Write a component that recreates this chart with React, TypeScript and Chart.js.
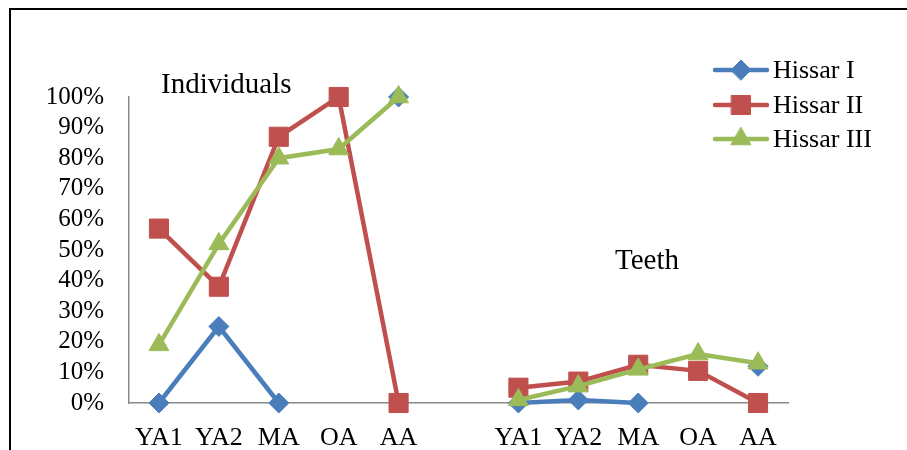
import React, { useEffect, useRef } from "react";
import { Chart, registerables } from "chart.js";

Chart.register(...registerables);

const categories = ["YA1", "YA2", "MA", "OA", "AA", "", "YA1", "YA2", "MA", "OA", "AA"];
const hissarI = [0, 25, 0, null, 100, null, 0, 1, 0, null, 12];
const hissarII = [57, 38, 87, 100, 0, null, 5, 7, 12.5, 10.5, 0];
const hissarIII = [19, 52, 80, 83, 100, null, 1, 5.5, 11, 16, 13];
const seriesNames = ["Hissar I", "Hissar II", "Hissar III"];
const annotations = ["Individuals", "Teeth"];

const BLUE = "#4A7EBB";
const RED = "#C0504D";
const GREEN = "#9BBB59";
const FONT = '"Liberation Serif", "Times New Roman", serif';

function drawMarker(ctx: CanvasRenderingContext2D, style: string, x: number, y: number, color: string) {
  ctx.save();
  ctx.fillStyle = color;
  ctx.strokeStyle = color;
  ctx.lineWidth = 1;
  ctx.beginPath();
  if (style === "rectRot") {
    const r = 10;
    ctx.moveTo(x - r, y);
    ctx.lineTo(x, y - r);
    ctx.lineTo(x + r, y);
    ctx.lineTo(x, y + r);
  } else if (style === "rect") {
    const s = 9.5;
    ctx.rect(x - s, y - s, 2 * s, 2 * s);
  } else {
    const r = 11.5;
    for (let i = 0; i < 3; i++) {
      const a = (i * 2 * Math.PI) / 3;
      const px = x + Math.sin(a) * r;
      const py = y - Math.cos(a) * r;
      if (i === 0) ctx.moveTo(px, py);
      else ctx.lineTo(px, py);
    }
  }
  ctx.closePath();
  ctx.fill();
  ctx.stroke();
  ctx.restore();
}

const decorPlugin = {
  id: "decor",
  afterDraw(chart: any) {
    const ctx: CanvasRenderingContext2D = chart.ctx;
    ctx.save();
    // outer frame
    ctx.strokeStyle = "#000";
    ctx.lineWidth = 2;
    ctx.beginPath();
    ctx.moveTo(10, 460);
    ctx.lineTo(10, 9);
    ctx.lineTo(920, 9);
    ctx.stroke();

    // annotations
    const area = chart.chartArea;
    ctx.fillStyle = "#000";
    ctx.textBaseline = "alphabetic";
    ctx.textAlign = "left";
    ctx.font = `29px ${FONT}`;
    ctx.fillText(annotations[0], area.left + 32, 93);
    ctx.fillText(annotations[1], area.left + 486, 269);

    // legend
    const colors = [BLUE, RED, GREEN];
    const styles = ["rectRot", "rect", "triangle"];
    const rows = [70, 105, 139];
    ctx.font = `26px ${FONT}`;
    ctx.textBaseline = "middle";
    for (let i = 0; i < 3; i++) {
      const y = rows[i];
      ctx.strokeStyle = colors[i];
      ctx.lineWidth = 4.5;
      ctx.lineCap = "round";
      ctx.beginPath();
      ctx.moveTo(715, y);
      ctx.lineTo(767, y);
      ctx.stroke();
      drawMarker(ctx, styles[i], 741, y, colors[i]);
      ctx.fillStyle = "#000";
      ctx.fillText(seriesNames[i], 773, y + 1);
    }
    ctx.restore();
  },
};

export default function App() {
  const ref = useRef<HTMLCanvasElement>(null);

  useEffect(() => {
    if (!ref.current) return;
    const chart = new Chart(ref.current, {
      type: "line",
      data: {
        labels: categories,
        datasets: [
          {
            label: seriesNames[0],
            data: hissarI,
            borderColor: BLUE,
            backgroundColor: BLUE,
            pointStyle: "rectRot",
            pointRadius: 10,
            pointBorderWidth: 1,
            borderWidth: 4.5,
            order: 2,
            clip: false,
          },
          {
            label: seriesNames[1],
            data: hissarII,
            borderColor: RED,
            backgroundColor: RED,
            pointStyle: "rect",
            pointRadius: 13.5,
            pointBorderWidth: 1,
            borderWidth: 4.5,
            order: 1,
            clip: false,
          },
          {
            label: seriesNames[2],
            data: hissarIII,
            borderColor: GREEN,
            backgroundColor: GREEN,
            pointStyle: "triangle",
            pointRadius: 11.5,
            pointBorderWidth: 1,
            borderWidth: 4.5,
            order: 0,
            clip: false,
          },
        ],
      },
      options: {
        responsive: false,
        animation: false,
        spanGaps: false,
        layout: { padding: { left: 0, right: 119, top: 97, bottom: 0 } },
        elements: { line: { tension: 0 } },
        plugins: { legend: { display: false }, tooltip: { enabled: false } },
        scales: {
          x: {
            offset: true,
            grid: { display: false, drawTicks: false },
            border: { display: true, color: "#898989", width: 1.5 },
            ticks: {
              color: "#000",
              font: { family: FONT, size: 26 },
              padding: 20,
              autoSkip: false,
              maxRotation: 0,
              minRotation: 0,
            },
            afterFit: (s: any) => {
              s.height = 47;
            },
          },
          y: {
            min: 0,
            max: 100,
            grid: { display: false, drawTicks: false },
            border: { display: true, color: "#898989", width: 1.5 },
            ticks: {
              stepSize: 10,
              autoSkip: false,
              color: "#000",
              font: { family: FONT, size: 25 },
              padding: 25,
              callback: (v: any) => `${v}%`,
            },
            afterFit: (s: any) => {
              s.width = 129;
            },
          },
        },
      },
      plugins: [decorPlugin],
    });
    return () => chart.destroy();
  }, []);

  return (
    <div style={{ position: "fixed", left: 0, top: 0, width: 907, height: 450, background: "#fff" }}>
      <canvas ref={ref} width={907} height={450} style={{ display: "block" }} />
    </div>
  );
}
